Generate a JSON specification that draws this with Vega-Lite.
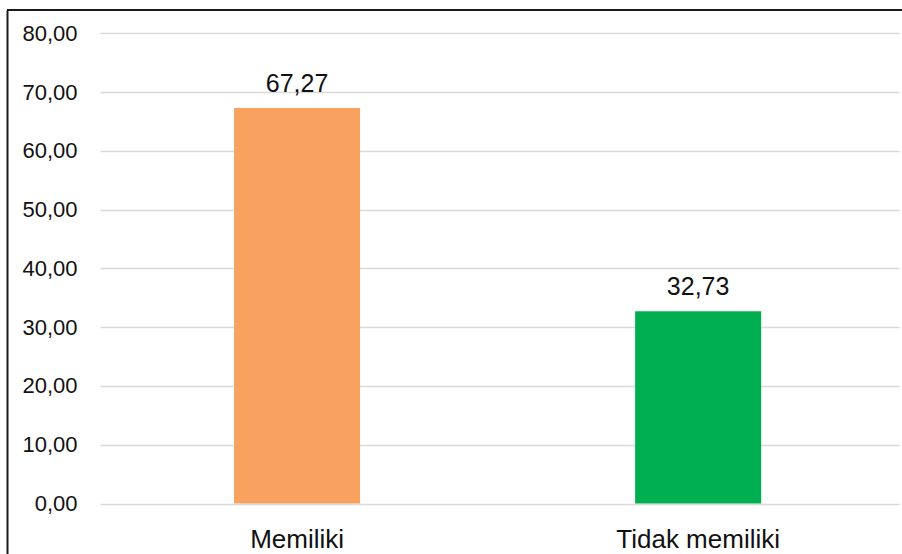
{
  "$schema": "https://vega.github.io/schema/vega-lite/v6.json",
  "width": 895,
  "height": 544,
  "autosize": {"type": "none"},
  "padding": {"left": 7, "top": 10, "right": 0, "bottom": 0},
  "background": "white",
  "config": {
    "view": {"stroke": null},
    "font": "Liberation Sans",
    "locale": {"number": {"decimal": ",", "thousands": ".", "grouping": [3], "currency": ["", ""]}}
  },
  "data": {"values": [
    {"kategori": "Memiliki", "persen": 67.27},
    {"kategori": "Tidak memiliki", "persen": 32.73}
  ]},
  "layer": [
    {
      "mark": {"type": "bar", "width": {"band": 1}},
      "encoding": {
        "x": {
          "field": "kategori", "type": "nominal", "sort": null,
          "scale": {"range": [93, 892], "paddingInner": 0.6858, "paddingOuter": 0.339, "align": 0.493},
          "axis": {
            "title": null, "domain": false, "ticks": false, "tickSize": 0, "grid": false,
            "labelAngle": 0, "labelFontSize": 26, "labelColor": "#111111",
            "labelBaseline": "alphabetic", "labelPadding": -7, "labelFont": "Liberation Sans"
          }
        },
        "y": {
          "field": "persen", "type": "quantitative",
          "scale": {"domain": [-8.59, 83.96], "nice": false, "zero": false},
          "axis": {
            "title": null, "values": [0, 10, 20, 30, 40, 50, 60, 70, 80], "format": ".2f",
            "domain": true, "domainColor": "#1a1a1a", "domainWidth": 2,
            "ticks": false, "tickSize": 0,
            "grid": true, "gridColor": "#D9D9D9", "gridWidth": 1.6,
            "labelFontSize": 22, "labelColor": "#111111", "labelPadding": -70,
            "labelAlign": "right", "labelBaseline": "middle", "labelFont": "Liberation Sans"
          }
        },
        "y2": {"datum": 0},
        "color": {
          "field": "kategori", "type": "nominal",
          "scale": {"domain": ["Memiliki", "Tidak memiliki"], "range": ["#F9A15E", "#00B050"]},
          "legend": null
        }
      }
    },
    {
      "mark": {"type": "text", "baseline": "alphabetic", "align": "center", "dy": -16, "fontSize": 25, "color": "#111111", "font": "Liberation Sans"},
      "encoding": {
        "x": {"field": "kategori", "type": "nominal", "sort": null},
        "y": {"field": "persen", "type": "quantitative"},
        "text": {"field": "persen", "type": "quantitative", "format": ".2f"}
      }
    },
    {
      "mark": {"type": "rule", "color": "#1a1a1a", "strokeWidth": 2},
      "encoding": {"y": {"datum": 83.96}}
    }
  ]
}
